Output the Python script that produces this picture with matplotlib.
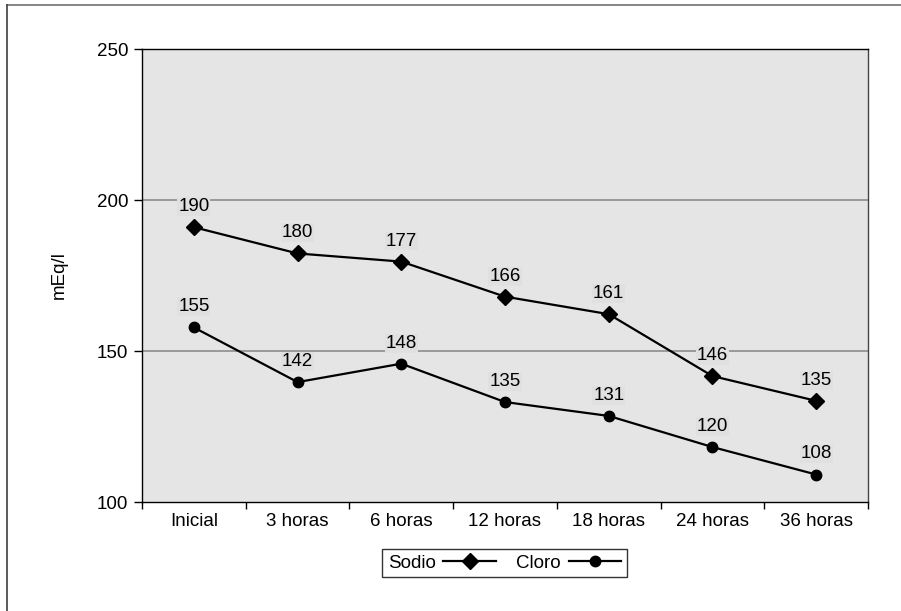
import matplotlib
matplotlib.use("Agg")
import matplotlib.pyplot as plt
from matplotlib.lines import Line2D

plt.rcParams['font.family'] = ['Liberation Sans', 'DejaVu Sans']

# -------------------------------
# Data (point positions, labels as printed)
# -------------------------------
categories = ["Inicial", "3 horas", "6 horas", "12 horas", "18 horas", "24 horas", "36 horas"]
sodio = [191.0, 182.3, 179.6, 168.0, 162.2, 141.7, 133.5]
cloro = [157.8, 139.7, 145.8, 133.1, 128.5, 118.2, 109.1]
sodio_labels = ["190", "180", "177", "166", "161", "146", "135"]
cloro_labels = ["155", "142", "148", "135", "131", "120", "108"]
y_ticks = [100, 150, 200, 250]

bg = "#e5e5e5"
fs = 13.5

fig = plt.figure(figsize=(9.01, 6.11), dpi=100)
ax = fig.add_axes([142/901, 109/611, 726/901, 453/611])
ax.set_facecolor(bg)

x = list(range(len(categories)))
ax.plot(x, sodio, color="black", lw=1.6, marker="D", markersize=8, label="Sodio", zorder=3)
ax.plot(x, cloro, color="black", lw=1.6, marker="o", markersize=7.5, label="Cloro", zorder=3)

for vals, labs in [(sodio, sodio_labels), (cloro, cloro_labels)]:
    for xi, v, t in zip(x, vals, labs):
        ax.annotate(t, (xi, v), xytext=(0, 14.8), textcoords="offset points",
                    ha="center", va="center", fontsize=fs, zorder=4,
                    bbox=dict(boxstyle="square,pad=0.05", fc="#e0e0e0", ec="none"))

# axes
ax.set_xlim(-0.5, len(categories) - 0.5)
ax.set_ylim(100, 250)
ax.set_yticks(y_ticks)
ax.set_yticklabels([str(v) for v in y_ticks], fontsize=fs)
ax.tick_params(axis="y", length=6, width=1, pad=4)
ax.set_xticks(x)
ax.set_xticklabels(categories, fontsize=fs)
ax.tick_params(axis="x", which="major", length=0, pad=8)
ax.set_xticks([i - 0.5 for i in range(len(categories) + 1)], minor=True)
ax.tick_params(axis="x", which="minor", length=5, width=1)

for yv in [150, 200]:
    ax.axhline(yv, color="#999999", lw=1.4, zorder=1)

for s in ax.spines.values():
    s.set_color("black")
    s.set_linewidth(1)
ax.spines["right"].set_color("#444444")

ax.set_ylabel("mEq/l", fontsize=fs)
ax.yaxis.set_label_coords(-0.102, 0.5)

leg = fig.legend(loc="center", bbox_to_anchor=(504.5/901, 48/611), ncol=2,
                 markerfirst=False, fontsize=fs, frameon=True, fancybox=False,
                 handlelength=2.8, handletextpad=0.4, columnspacing=1.1,
                 borderpad=0.3, borderaxespad=0)
leg.get_frame().set_edgecolor("black")
leg.get_frame().set_linewidth(1)

# outer chart border (top and left)
fig.add_artist(Line2D([7/901, 1.0], [1 - 5/611, 1 - 5/611], transform=fig.transFigure,
                      color="#707070", lw=1.2))
fig.add_artist(Line2D([7/901, 7/901], [0, 1 - 5/611], transform=fig.transFigure,
                      color="#404040", lw=1.2))

fig.savefig("out.png", dpi=100)
